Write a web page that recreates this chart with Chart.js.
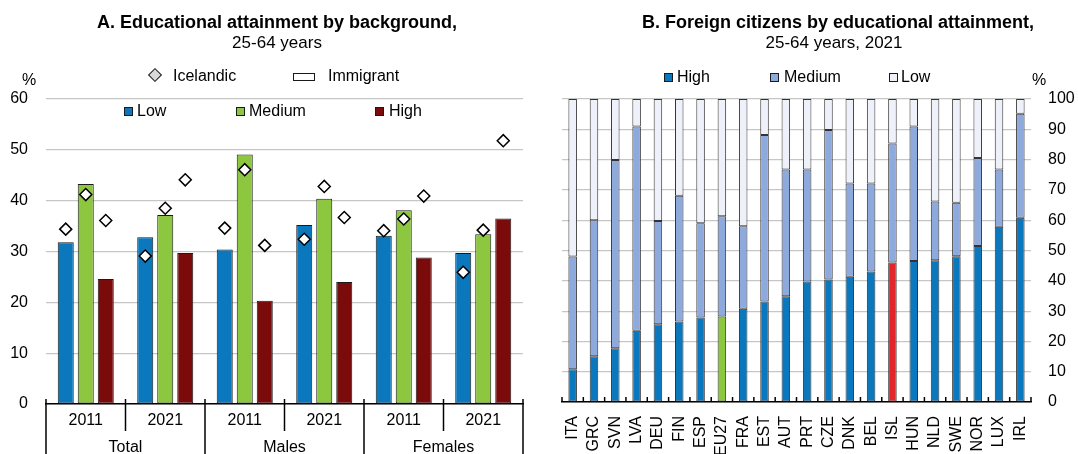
<!DOCTYPE html>
<html>
<head>
<meta charset="utf-8">
<title>Educational attainment of immigrants and foreign citizens</title>
<script src="https://cdn.jsdelivr.net/npm/chart.js"></script>
<style>
  body { margin: 0; background: #fff; font-family: "Liberation Sans", Arial, sans-serif; color: #000; }
  #wrap { position: relative; width: 1078px; height: 454px; overflow: hidden; }
  .panel { position: absolute; top: 0; height: 454px; }
  .t { position: absolute; white-space: nowrap; line-height: 1; font-size: 16px; }
  .title { font-size: 18px; font-weight: bold; transform: translateX(-50%); }
  .sub { font-size: 17px; transform: translateX(-50%); }
  .box { position: absolute; width: 7px; height: 7px; border: 1px solid #1a1a1a; }
</style>
</head>
<body>
<div id="wrap">
  <div class="panel" style="left:0;width:540px;"><canvas id="chartA"></canvas></div>
  <div class="panel" style="left:540px;width:538px;"><canvas id="chartB"></canvas></div>

  <!-- panel A text -->
  <div class="t title" style="left:277px;top:13px;">A. Educational attainment by background,</div>
  <div class="t sub" style="left:277px;top:34px;">25-64 years</div>
  <div class="t" style="left:22px;top:72px;">%</div>
  <div style="position:absolute;left:150px;top:70px;width:8px;height:8px;border:1px solid #1a1a1a;background:#d9d9d9;transform:rotate(45deg);"></div>
  <div class="t" style="left:173px;top:68px;">Icelandic</div>
  <div style="position:absolute;left:293px;top:73px;width:20px;height:6px;border:1px solid #1a1a1a;background:#fff;"></div>
  <div class="t" style="left:328px;top:68px;">Immigrant</div>
  <div class="box" style="left:124px;top:107px;background:#0b78be;"></div>
  <div class="t" style="left:137px;top:103px;">Low</div>
  <div class="box" style="left:236px;top:107px;background:#8dc63f;"></div>
  <div class="t" style="left:249px;top:103px;">Medium</div>
  <div class="box" style="left:375px;top:107px;background:#7b0a0a;"></div>
  <div class="t" style="left:389px;top:103px;">High</div>

  <!-- panel B text -->
  <div class="t title" style="left:838px;top:13px;">B. Foreign citizens by educational attainment,</div>
  <div class="t sub" style="left:834px;top:34px;">25-64 years, 2021</div>
  <div class="box" style="left:664px;top:73px;background:#0b78be;"></div>
  <div class="t" style="left:677px;top:69px;">High</div>
  <div class="box" style="left:770px;top:73px;background:#8ea9db;"></div>
  <div class="t" style="left:784px;top:69px;">Medium</div>
  <div class="box" style="left:889px;top:73px;background:#eef1f9;"></div>
  <div class="t" style="left:901px;top:69px;">Low</div>
  <div class="t" style="left:1032px;top:72px;">%</div>
</div>

<script>
// Panel A: immigrant (bars) vs Icelandic (diamonds), share by attainment level
const groups = ['Total', 'Males', 'Females'];
const years = ['2011', '2021', '2011', '2021', '2011', '2021'];
const immLow = [31.8, 32.8, 30.4, 35.2, 33.1, 29.7];
const immMedium = [43.3, 37.2, 49.1, 40.4, 38.1, 33.4];
const immHigh = [24.6, 29.7, 20.3, 24.0, 28.8, 36.5];
const iceLow = [34.4, 29.1, 34.6, 32.4, 34.1, 25.9];
const iceMedium = [41.2, 38.5, 46.1, 42.8, 36.4, 34.2];
const iceHigh = [36.1, 44.1, 31.2, 36.7, 40.9, 51.8];

// Panel B: foreign citizens by attainment, 2021
const countries = ['ITA', 'GRC', 'SVN', 'LVA', 'DEU', 'FIN', 'ESP', 'EU27', 'FRA', 'EST', 'AUT',
                   'PRT', 'CZE', 'DNK', 'BEL', 'ISL', 'HUN', 'NLD', 'SWE', 'NOR', 'LUX', 'IRL'];
const fcHigh = [10.8, 15.1, 17.7, 23.5, 25.7, 26.6, 27.9, 28.2, 30.8, 33.2, 34.9,
                39.8, 40.4, 41.3, 43.1, 46.0, 46.5, 46.8, 48.1, 51.5, 57.8, 60.8];
const fcMedium = [37.2, 44.9, 62.2, 67.4, 34.0, 41.5, 31.1, 33.1, 27.2, 54.9, 41.8,
                  36.9, 49.4, 30.8, 29.0, 39.3, 44.4, 19.4, 17.7, 29.0, 18.9, 34.3];
const fcLow = [52.0, 40.0, 20.1, 9.1, 40.3, 31.9, 41.0, 38.7, 42.0, 11.9, 23.3,
               23.3, 10.2, 27.9, 27.9, 14.7, 9.1, 33.8, 34.2, 19.5, 23.3, 4.9];

const BLUE = '#0b78be', GREEN = '#8dc63f', DARKRED = '#7b0a0a', RED = '#e3242b';
const GRID = '#c6c6c6', EDGE = '#1a1a1a';

Chart.defaults.font.family = '"Liberation Sans", Arial, sans-serif';
Chart.defaults.font.size = 16;
Chart.defaults.color = '#000';
Chart.defaults.animation = false;

// put each diamond over the matching bar of its group
const alignDiamonds = {
    id: 'alignDiamonds',
    afterDatasetsUpdate(chart) {
        chart.data.datasets.forEach((ds, i) => {
            if (ds.type !== 'line') return;
            const bars = chart.getDatasetMeta(ds.barIndex).data;
            chart.getDatasetMeta(i).data.forEach((pt, j) => { pt.x = bars[j].x; });
        });
    }
};

// two-level category axis: years, then Total / Males / Females
const groupAxis = {
    id: 'groupAxis',
    afterDraw(chart) {
        const { ctx, chartArea, scales: { x } } = chart;
        const base = chartArea.bottom;
        ctx.save();
        ctx.strokeStyle = '#000';
        ctx.lineWidth = 1.5;
        ctx.fillStyle = '#000';
        ctx.font = '16px "Liberation Sans", Arial, sans-serif';
        ctx.textAlign = 'center';
        ctx.textBaseline = 'middle';
        years.forEach((yr, i) => {
            const cx = x.getPixelForValue(i);
            ctx.fillText(yr, cx, base + 17);
            const edge = i === 0 ? chartArea.left : (x.getPixelForValue(i - 1) + cx) / 2;
            ctx.beginPath();
            ctx.moveTo(edge, base - 5);
            ctx.lineTo(edge, i % 2 === 0 ? chart.height : base + 27);
            ctx.stroke();
        });
        ctx.beginPath();
        ctx.moveTo(chartArea.right, base - 5);
        ctx.lineTo(chartArea.right, chart.height);
        ctx.stroke();
        groups.forEach((g, k) => {
            const cx = (x.getPixelForValue(2 * k) + x.getPixelForValue(2 * k + 1)) / 2;
            ctx.fillText(g, cx, base + 44);
        });
        ctx.restore();
    }
};

function barSet(label, data, color) {
    return { type: 'bar', label, data, backgroundColor: color, borderColor: EDGE,
             borderWidth: 1, borderSkipped: false, order: 1 };
}
function diamondSet(label, data, barIndex) {
    return { type: 'line', label, data, barIndex, showLine: false, order: 0,
             pointStyle: 'rectRot', pointRadius: 6, pointBackgroundColor: '#fff',
             pointBorderColor: '#000', pointBorderWidth: 1.5 };
}

new Chart(document.getElementById('chartA'), {
    data: {
        labels: years,
        datasets: [
            barSet('Low', immLow, BLUE),
            barSet('Medium', immMedium, GREEN),
            barSet('High', immHigh, DARKRED),
            diamondSet('Icelandic Low', iceLow, 0),
            diamondSet('Icelandic Medium', iceMedium, 1),
            diamondSet('Icelandic High', iceHigh, 2)
        ]
    },
    options: {
        responsive: true,
        maintainAspectRatio: false,
        layout: { padding: { top: 99, right: 17, bottom: 0, left: 0 } },
        datasets: { bar: { categoryPercentage: 0.755, barPercentage: 0.8 } },
        plugins: { legend: { display: false }, tooltip: { enabled: false } },
        scales: {
            x: {
                offset: true,
                grid: { display: false },
                border: { color: '#000', width: 1.5 },
                ticks: { display: false },
                afterFit(scale) { scale.height = 50; }
            },
            y: {
                min: 0, max: 60,
                ticks: { stepSize: 10, padding: 18 },
                grid: { color: GRID, lineWidth: 1.2, drawTicks: false },
                border: { display: false },
                afterFit(scale) { scale.width = 46; }
            }
        }
    },
    plugins: [alignDiamonds, groupAxis]
});

// small inward ticks between countries
const innerTicks = {
    id: 'innerTicks',
    afterDraw(chart) {
        const { ctx, chartArea, scales: { x } } = chart;
        const base = chartArea.bottom;
        ctx.save();
        ctx.strokeStyle = '#000';
        ctx.lineWidth = 1.5;
        for (let i = 0; i <= countries.length; i++) {
            let px;
            if (i === 0) px = chartArea.left;
            else if (i === countries.length) px = chartArea.right;
            else px = (x.getPixelForValue(i - 1) + x.getPixelForValue(i)) / 2;
            ctx.beginPath();
            ctx.moveTo(px, base - 5);
            ctx.lineTo(px, base);
            ctx.stroke();
        }
        ctx.restore();
    }
};

const highColors = countries.map(c => c === 'EU27' ? GREEN : c === 'ISL' ? RED : BLUE);

new Chart(document.getElementById('chartB'), {
    type: 'bar',
    data: {
        labels: countries,
        datasets: [
            { label: 'High', data: fcHigh, backgroundColor: highColors },
            { label: 'Medium', data: fcMedium, backgroundColor: '#8ea9db' },
            { label: 'Low', data: fcLow, backgroundColor: '#eef1f9' }
        ]
    },
    options: {
        responsive: true,
        maintainAspectRatio: false,
        layout: { padding: { top: 99, right: 0, bottom: 0, left: 22 } },
        datasets: { bar: { categoryPercentage: 1, barPercentage: 0.4, borderColor: '#333',
                           borderWidth: 1, borderSkipped: false } },
        plugins: { legend: { display: false }, tooltip: { enabled: false } },
        scales: {
            x: {
                stacked: true,
                grid: { display: false },
                border: { color: '#000', width: 1.5 },
                ticks: { minRotation: 90, maxRotation: 90, autoSkip: false, padding: 6 },
                afterFit(scale) { scale.height = 52; }
            },
            y: {
                stacked: true,
                position: 'right',
                min: 0, max: 100,
                ticks: { stepSize: 10, padding: 17 },
                grid: { color: GRID, lineWidth: 1.2, drawTicks: false },
                border: { display: false },
                afterFit(scale) { scale.width = 47; }
            }
        }
    },
    plugins: [innerTicks]
});
</script>
</body>
</html>
